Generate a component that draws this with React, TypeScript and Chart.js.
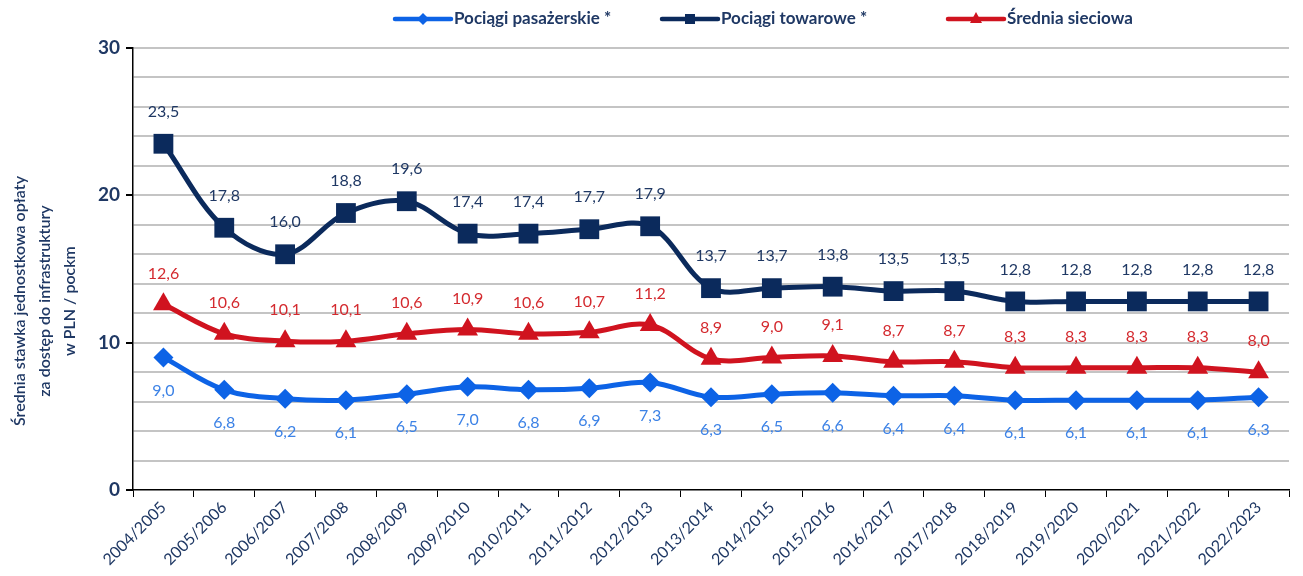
import { useEffect, useRef } from 'react';
import { Chart, registerables } from 'chart.js';
Chart.register(...registerables);

const categories = ['2004/2005','2005/2006','2006/2007','2007/2008','2008/2009','2009/2010','2010/2011','2011/2012','2012/2013','2013/2014','2014/2015','2015/2016','2016/2017','2017/2018','2018/2019','2019/2020','2020/2021','2021/2022','2022/2023'];
const passenger = [9.0, 6.8, 6.2, 6.1, 6.5, 7.0, 6.8, 6.9, 7.3, 6.3, 6.5, 6.6, 6.4, 6.4, 6.1, 6.1, 6.1, 6.1, 6.3];
const freight = [23.5, 17.8, 16.0, 18.8, 19.6, 17.4, 17.4, 17.7, 17.9, 13.7, 13.7, 13.8, 13.5, 13.5, 12.8, 12.8, 12.8, 12.8, 12.8];
const average = [12.6, 10.6, 10.1, 10.1, 10.6, 10.9, 10.6, 10.7, 11.2, 8.9, 9.0, 9.1, 8.7, 8.7, 8.3, 8.3, 8.3, 8.3, 8.0];
const seriesNames = ['Pociągi pasażerskie *', 'Pociągi towarowe *', 'Średnia sieciowa'];
const yTitleLines = ['Średnia stawka jednostkowa opłaty', 'za dostęp do infrastruktury', 'w PLN / pockm'];

const FONT = 'Lato, "Open Sans", sans-serif';
const NAVY_TEXT = '#1f3864';
const C_PASS = '#0d63e6';
const C_FREIGHT = '#0b2a5c';
const C_AVG = '#d0131f';
const LABEL_COLORS = ['#3c82e6', '#1f3864', '#d42a2f'];
const LABEL_OFFSETS = [33, -32, -31];

const dataLabelPlugin = {
  id: 'dataLabels',
  afterDatasetsDraw(chart: any) {
    const ctx = chart.ctx;
    ctx.save();
    ctx.font = `16px ${FONT}`;
    ctx.textAlign = 'center';
    ctx.textBaseline = 'middle';
    chart.data.datasets.forEach((ds: any, i: number) => {
      const meta = chart.getDatasetMeta(i);
      ctx.fillStyle = LABEL_COLORS[i];
      meta.data.forEach((pt: any, j: number) => {
        const v = ds.data[j];
        ctx.fillText(v.toFixed(1).replace('.', ','), pt.x, pt.y + LABEL_OFFSETS[i]);
      });
    });
    ctx.restore();
  },
};

const legendPlugin = {
  id: 'customLegend',
  afterDraw(chart: any) {
    const ctx = chart.ctx;
    const starts = [395, 662, 948];
    const y = 19;
    ctx.save();
    chart.data.datasets.forEach((ds: any, i: number) => {
      const x0 = starts[i];
      const x1 = x0 + 56;
      ctx.strokeStyle = ds.borderColor;
      ctx.lineWidth = 4.5;
      ctx.lineCap = 'round';
      ctx.beginPath();
      ctx.moveTo(x0, y);
      ctx.lineTo(x1, y);
      ctx.stroke();
      const cx = (x0 + x1) / 2;
      ctx.fillStyle = ds.borderColor;
      ctx.beginPath();
      if (ds.pointStyle === 'rectRot') {
        const r = 6;
        ctx.moveTo(cx, y - r); ctx.lineTo(cx + r, y); ctx.lineTo(cx, y + r); ctx.lineTo(cx - r, y); ctx.closePath();
      } else if (ds.pointStyle === 'rect') {
        ctx.rect(cx - 5, y - 5, 10, 10);
      } else {
        ctx.moveTo(cx, y - 7); ctx.lineTo(cx + 6, y + 4); ctx.lineTo(cx - 6, y + 4); ctx.closePath();
      }
      ctx.fill();
      ctx.fillStyle = NAVY_TEXT;
      ctx.font = `bold 17px ${FONT}`;
      ctx.textAlign = 'left';
      ctx.textBaseline = 'middle';
      ctx.fillText(seriesNames[i], x1 + 3, y);
    });
    ctx.restore();
  },
};

const yTitlePlugin = {
  id: 'yTitle',
  afterDraw(chart: any) {
    const ctx = chart.ctx;
    ctx.save();
    ctx.fillStyle = NAVY_TEXT;
    ctx.font = `600 16px ${FONT}`;
    ctx.textAlign = 'center';
    ctx.textBaseline = 'middle';
    const xs = [20, 45, 70];
    yTitleLines.forEach((line, i) => {
      ctx.save();
      ctx.translate(xs[i], 301);
      ctx.rotate(-Math.PI / 2);
      ctx.fillText(line, 0, 0);
      ctx.restore();
    });
    ctx.restore();
  },
};

export default function App() {
  const ref = useRef<HTMLCanvasElement>(null);
  useEffect(() => {
    document.body.style.margin = '0';
    const chart = new Chart(ref.current!, {
      type: 'line',
      data: {
        labels: categories,
        datasets: [
          { label: seriesNames[0], data: passenger, borderColor: C_PASS, backgroundColor: C_PASS, borderWidth: 5, pointStyle: 'rectRot', pointRadius: 10, pointBackgroundColor: C_PASS, pointBorderWidth: 0, tension: 0.35 },
          { label: seriesNames[1], data: freight, borderColor: C_FREIGHT, backgroundColor: C_FREIGHT, borderWidth: 5, pointStyle: 'rect', pointRadius: 14, pointBackgroundColor: C_FREIGHT, pointBorderWidth: 0, tension: 0.35 },
          { label: seriesNames[2], data: average, borderColor: C_AVG, backgroundColor: C_AVG, borderWidth: 5, pointStyle: 'triangle', pointRadius: 12, pointBackgroundColor: C_AVG, pointBorderWidth: 0, tension: 0.35 },
        ],
      },
      options: {
        responsive: false,
        animation: false,
        layout: { padding: { top: 48, right: 3, left: 0, bottom: 0 } },
        plugins: { legend: { display: false }, tooltip: { enabled: false } },
        scales: {
          x: {
            offset: true,
            grid: { offset: true, drawOnChartArea: false, drawTicks: true, tickLength: 7, color: '#000' },
            border: { color: '#000', width: 1.5 },
            ticks: { autoSkip: false, minRotation: 45, maxRotation: 45, color: NAVY_TEXT, font: { family: FONT, size: 16 }, padding: 1 },
            afterFit(scale: any) { scale.height = 86; },
          },
          y: {
            min: 0,
            max: 30,
            ticks: {
              stepSize: 2,
              autoSkip: false,
              color: NAVY_TEXT,
              font: { family: FONT, size: 19, weight: 'bold' },
              padding: 6,
              callback: (v: any) => (v % 10 === 0 ? String(v) : ''),
            },
            grid: {
              color: (c: any) => (c.tick && c.tick.value === 0 ? 'rgba(0,0,0,0)' : '#c4c4c4'),
              tickColor: (c: any) => (c.tick && c.tick.value % 10 === 0 ? '#000' : 'rgba(0,0,0,0)'),
              lineWidth: 2,
              tickLength: 7,
            },
            border: { color: '#000', width: 1.5 },
            afterFit(scale: any) { scale.width = 133; },
          },
        },
      },
      plugins: [dataLabelPlugin, legendPlugin, yTitlePlugin],
    });
    return () => chart.destroy();
  }, []);
  return <canvas ref={ref} width={1303} height={576} />;
}
